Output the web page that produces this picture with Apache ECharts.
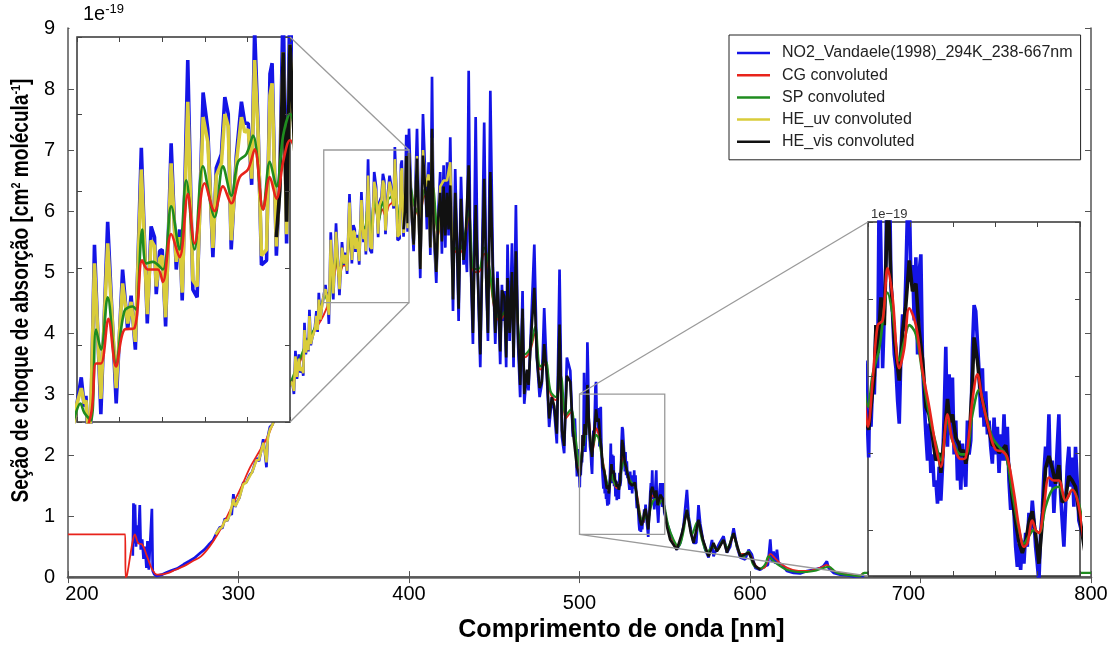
<!DOCTYPE html>
<html lang="pt">
<head>
<meta charset="UTF-8">
<title>Seção de choque de absorção do NO2</title>
<script src="https://cdn.jsdelivr.net/npm/echarts@6/dist/echarts.min.js"></script>
<style>html,body{margin:0;background:#fff}</style>
</head>
<body>
<div id="main" style="width:1117px;height:648px"></div>
<script>
// valores em 1e-19 cm2/molécula
const no2Vandaele = [
  [238.0,0.35],[238.4,1.21],[238.8,0.55],[239.3,1.19],[239.9,0.50],[240.6,0.85],[241.2,0.55],[242.1,1.18],[242.7,0.45],[243.5,0.62],
  [244.3,0.30],[245.2,0.50],[246.0,0.15],[246.6,0.59],[247.4,0.12],[248.4,0.10],[249.2,1.12],[249.7,0.10],[250.5,0.05],[252.0,0.02],
  [255.0,0.04],[258.1,0.08],[261.0,0.11],[264.0,0.14],[267.9,0.21],[271.0,0.26],[274.0,0.31],[277.7,0.40],[280.0,0.45],[282.5,0.53],
  [285.0,0.60],[287.5,0.74],[289.1,0.82],[290.5,0.80],[292.0,0.96],[293.5,0.92],[295.0,1.06],[296.0,1.02],[297.0,1.36],[298.0,1.15],
  [298.9,1.22],[300.5,1.30],[302.8,1.55],[304.5,1.55],[306.7,1.68],[308.0,1.72],[310.6,1.95],[312.0,1.90],[313.5,2.10],[314.5,2.26],
  [315.5,2.05],[316.4,1.80],[317.2,2.30],[318.4,2.46],[320.0,2.50],[322.3,2.75],[324.0,2.85],[326.0,3.00],[328.0,3.05],[330.0,3.15],
  [331.5,3.22],[332.5,3.00],[333.4,3.71],[334.3,3.25],[335.4,3.65],[336.3,3.35],[337.3,3.44],[338.0,3.30],[338.7,4.17],[339.5,3.65],
  [340.3,3.92],[341.0,3.70],[341.6,4.38],[342.4,3.80],[343.2,3.92],[344.2,3.90],[344.8,4.09],[345.7,4.36],[346.4,4.02],[347.1,4.66],
  [348.0,4.20],[349.0,4.47],[350.0,4.62],[351.0,4.79],[351.7,4.60],[352.1,4.67],[353.0,4.15],[354.1,5.65],[355.6,4.55],[357.2,5.80],
  [359.2,4.62],[360.7,5.49],[361.9,5.10],[362.7,5.32],[363.7,4.97],[365.1,6.28],[366.5,5.14],[367.4,5.77],[368.2,5.70],[368.6,5.33],
  [369.4,5.61],[370.0,5.62],[370.8,5.12],[372.1,6.31],[373.3,5.49],[374.1,5.75],[374.7,5.29],[376.0,6.85],[377.2,5.36],[378.2,5.31],
  [379.6,6.64],[380.7,6.40],[381.9,5.57],[382.7,6.15],[383.9,6.24],[384.7,6.61],[385.5,6.50],[386.2,5.62],[387.4,6.23],[388.6,6.58],
  [389.4,6.44],[390.2,6.44],[391.0,6.04],[391.7,7.05],[392.5,6.42],[393.3,5.52],[394.5,5.55],[395.3,6.76],[395.8,6.83],[396.8,5.58],
  [397.6,6.07],[398.4,7.25],[399.2,5.66],[400.0,7.35],[401.7,5.88],[402.7,5.34],[404.7,7.35],[406.6,4.90],[408.2,7.59],[409.6,6.53],
  [410.5,5.70],[411.5,6.80],[412.5,5.28],[413.5,8.20],[414.4,5.72],[416.0,4.82],[417.2,6.00],[418.3,6.64],[419.3,5.30],[420.3,6.75],
  [421.3,5.40],[422.3,6.80],[423.2,5.60],[424.2,7.21],[425.8,4.36],[427.1,6.69],[428.1,5.55],[429.1,4.20],[430.5,6.56],[432.0,5.12],
  [433.0,5.45],[434.0,5.00],[435.0,8.30],[435.9,5.50],[437.5,3.82],[439.1,7.54],[440.2,5.12],[441.8,3.44],[442.8,5.12],[444.1,7.45],
  [445.3,4.90],[446.3,3.87],[447.7,7.97],[449.2,5.12],[450.6,3.82],[451.9,5.01],[453.5,3.49],[454.5,4.79],[455.2,4.20],[455.9,4.69],
  [457.0,3.44],[457.8,5.45],[459.0,3.87],[460.4,5.47],[461.3,3.44],[462.7,6.10],[463.9,3.87],[465.2,2.95],[466.6,4.69],[467.6,2.84],
  [469.2,3.38],[470.1,3.06],[471.5,4.03],[473.5,5.45],[475.0,3.60],[476.6,2.95],[477.9,3.17],[479.3,4.41],[480.9,3.27],[482.2,2.46],
  [483.8,2.95],[485.2,2.73],[486.7,2.19],[488.3,5.04],[489.7,2.30],[491.0,2.03],[492.6,3.60],[494.6,3.38],[496.1,2.30],[497.3,2.60],
  [498.5,1.65],[499.3,2.10],[500.16,1.47],[500.31,1.77],[500.71,1.67],[501.10,1.97],[501.49,1.88],[501.88,2.33],[502.28,2.05],[502.67,3.35],
  [503.06,2.79],[503.45,2.05],[503.84,2.40],[504.24,2.77],[504.63,3.85],[505.02,3.40],[505.41,2.61],[505.80,2.40],[506.20,2.14],[506.59,2.05],
  [506.98,1.84],[507.37,1.69],[507.76,2.14],[508.16,2.40],[508.55,2.29],[508.94,2.66],[509.33,3.10],[509.73,3.20],[510.12,2.61],[510.51,2.72],
  [510.90,2.36],[511.29,2.77],[511.69,2.14],[512.08,2.68],[512.47,2.79],[512.86,2.08],[513.25,1.84],[513.65,1.62],[514.04,1.45],[514.43,1.69],
  [514.82,1.37],[515.22,1.49],[515.61,1.28],[516.00,1.32],[516.39,1.17],[516.78,1.41],[517.18,1.19],[517.57,1.41],[517.96,1.75],[518.35,2.19],
  [518.75,1.54],[519.14,2.01],[519.53,1.62],[519.92,1.99],[520.31,1.49],[520.71,1.71],[521.10,1.32],[521.49,1.58],[521.88,1.26],[522.27,1.56],
  [522.67,1.41],[523.06,1.28],[523.45,1.71],[523.84,1.49],[524.24,1.58],[524.63,2.18],[525.02,2.46],[525.41,2.42],[525.80,2.23],[526.20,2.03],
  [526.59,1.73],[526.98,2.05],[527.37,1.67],[527.76,1.90],[528.16,1.62],[528.55,1.71],[528.94,1.54],[529.33,1.43],[529.73,1.73],[530.12,1.49],
  [530.51,1.67],[530.90,1.37],[531.29,1.62],[531.69,1.45],[532.08,1.75],[532.47,1.45],[532.86,1.67],[533.25,1.32],[533.65,1.13],[534.04,1.24],
  [534.43,1.11],[534.82,0.89],[535.22,0.76],[535.61,0.91],[536.00,0.74],[536.39,0.93],[536.78,0.78],[537.18,0.98],[537.57,0.89],[537.96,1.11],
  [538.35,1.00],[538.75,1.19],[539.14,1.06],[539.53,0.89],[539.92,0.78],[540.31,0.66],[540.71,0.98],[541.10,1.11],[541.49,1.37],[541.88,1.54],
  [542.27,1.41],[542.67,1.75],[543.06,1.28],[543.45,1.45],[543.84,1.11],[544.24,1.32],[544.63,1.54],[545.02,1.75],[545.41,1.24],[545.80,1.06],
  [546.20,0.89],[546.59,1.15],[546.98,1.41],[547.37,1.54],[547.76,1.28],[548.16,1.47],[548.55,1.15],[548.94,1.54],[549.33,1.32],[549.73,1.06],
  [551.3,0.89],[553.2,0.72],[555.2,0.56],[557.1,0.45],[559.1,0.56],[561.0,0.83],[563.0,1.43],[564.0,0.99],[565.3,0.78],[566.9,0.56],
  [568.5,0.56],[569.8,1.18],[570.8,0.88],[572.4,0.61],[573.8,0.45],[575.7,0.32],[577.7,0.61],[578.6,0.34],[580.2,0.45],[582.2,0.56],
  [584.5,0.67],[586.5,0.40],[588.4,0.50],[590.4,0.80],[592.3,0.50],[594.3,0.32],[597.2,0.29],[599.2,0.45],[601.1,0.37],[603.1,0.15],
  [606.0,0.12],[608.9,0.18],[610.5,0.20],[611.9,0.62],[612.8,0.25],[613.8,0.42],[614.8,0.22],[615.8,0.45],[616.7,0.22],[618.7,0.21],
  [621.6,0.10],[625.5,0.07],[629.4,0.06],[633.4,0.10],[637.3,0.12],[641.2,0.15],[643.1,0.18],[645.1,0.26],[646.1,0.15],[649.0,0.07],
  [652.9,0.04],[656.8,0.03],[660.7,0.01],[664.6,0.02],[667.0,0.02]
];

const cgConvoluted = [
  [200.0,0.70],[233.6,0.70],[233.7,0.00],[234.5,0.02],[236.5,0.35],[238.0,0.60],[239.2,0.70],[240.5,0.60],[241.4,0.55],[243.3,0.54],
  [246.4,0.34],[249.3,0.13],[252.3,0.04],[258.0,0.06],[263.0,0.12],[268.0,0.18],[273.0,0.26],[278.0,0.34],[283.0,0.50],[287.5,0.69],
  [292.0,0.92],[297.0,1.21],[302.0,1.50],[307.0,1.81],[312.0,2.05],[317.0,2.30],[322.6,2.68],[327.0,2.95],[331.0,3.20],[335.0,3.45],
  [340.0,3.80],[345.0,4.05],[350.0,4.30],[353.3,4.55],[354.47,4.88],[355.64,4.88],[357.37,5.17],[359.17,4.86],[361.13,5.10],[363.48,5.11],
  [365.29,5.55],[366.62,5.49],[368.98,5.49],[370.15,5.41],[372.11,5.72],[374.07,5.57],[376.03,5.98],[377.60,5.66],[379.96,6.05],[382.31,5.87],
  [384.27,6.03],[386.23,5.92],[388.19,6.09],[390.15,6.14],[391.72,6.27],[393.68,5.88],[395.25,6.09],[396.82,5.95],[398.39,6.19],[399.96,6.33],
  [403,6.10],[406,5.90],[409,6.25],[412,5.90],[414,6.30],[417,5.60],[420,6.00],[423,6.10],[426,5.40],[429,5.30],
  [432,5.40],[435,5.90],[438,5.00],[441,5.00],[444,5.30],[447,5.00],[450,4.40],[453,4.20],[456,4.30],[459,4.40],
  [462,4.50],[465,3.80],[468,3.60],[471,3.70],[474,4.00],[477,3.40],[480,3.50],[483,3.00],[486,2.90],[489,3.20],
  [492,2.60],[495,2.70],[497,2.40],[499,1.90],[500.0,1.67],[501.10,1.97],[502.28,2.33],[503.45,2.36],[504.63,2.70],[505.80,2.51],
  [507.37,2.05],[508.55,2.18],[509.73,2.44],[511.29,2.33],[512.86,2.03],[514.43,1.80],[516.00,1.54],[517.18,1.41],[518.75,1.75],[519.92,1.58],
  [521.88,1.46],[523.06,1.47],[524.63,1.84],[525.80,2.01],[526.98,1.84],[528.55,1.65],[530.12,1.52],[531.69,1.51],[532.86,1.47],[534.43,1.24],
  [535.61,1.02],[536.78,0.89],[537.57,0.91],[538.75,1.06],[539.53,1.00],[540.31,0.98],[541.49,1.15],[542.67,1.34],[543.84,1.32],[545.02,1.32],
  [546.59,1.19],[548.16,1.26],[549.73,1.15],[551.3,0.85],[553.2,0.65],[557.1,0.50],[560.0,0.70],[563.0,1.00],[565.3,0.75],[567.0,0.62],
  [569.8,0.85],[572.4,0.62],[575.7,0.40],[578.6,0.50],[581.0,0.45],[584.5,0.60],[586.5,0.45],[590.4,0.65],[594.3,0.38],[599.2,0.38],
  [603.1,0.20],[606.0,0.14],[609.0,0.17],[612.0,0.38],[615.0,0.30],[619.0,0.20],[625.0,0.12],[633.0,0.10],[641.0,0.15],[645.0,0.20],
  [649.0,0.10],[657.0,0.05],[664.0,0.02],[667.0,0.07],[800.0,0.07]
];

const spConvoluted = [
  [330,3.15],[335,3.50],[340,3.85],[345,4.10],[349.76,4.56],[350.8,4.62],[351.72,4.56],[353.29,4.51],[354.47,5.10],[355.64,4.97],
  [357.21,5.31],[359.17,4.88],[361.13,5.22],[363.09,5.25],[363.88,5.23],[365.29,5.75],[366.23,5.53],[367.80,5.54],[370.15,5.49],[372.11,5.90],
  [374.07,5.62],[375.64,6.07],[377.60,5.62],[379.56,6.16],[382.31,5.83],[384.27,6.16],[386.23,5.97],[387.80,6.19],[389.76,6.24],[391.33,6.36],
  [393.68,5.88],[395.25,6.19],[396.82,6.03],[398.39,6.36],[399.96,6.50],[403,6.10],[406,5.95],[409,6.35],[412,5.95],[414,6.40],
  [417,5.65],[420,6.10],[423,6.20],[426,5.45],[429,5.35],[432,5.50],[435,6.00],[438,5.05],[441,5.05],[444,5.40],
  [447,5.10],[450,4.45],[453,4.25],[456,4.35],[459,4.50],[462,4.60],[465,3.85],[468,3.65],[471,3.75],[474,4.10],
  [477,3.45],[480,3.55],[483,3.05],[486,2.95],[489,3.30],[492,2.65],[495,2.75],[497,2.45],[499,1.95],[500.0,1.80],
  [501.10,2.01],[502.67,2.18],[504.63,2.54],[505.80,2.40],[507.37,2.10],[508.55,2.23],[509.73,2.33],[511.29,2.27],[512.86,2.01],[514.43,1.75],
  [516.00,1.56],[517.18,1.45],[518.75,1.71],[519.92,1.58],[521.88,1.49],[523.06,1.49],[524.63,1.75],[526.20,1.91],[527.76,1.75],[529.33,1.60],
  [530.90,1.54],[532.47,1.49],[534.04,1.24],[535.61,1.00],[536.78,0.91],[537.96,0.96],[539.14,1.00],[540.31,0.98],[541.88,1.15],[543.45,1.26],
  [545.02,1.28],[546.59,1.19],[548.16,1.26],[549.73,1.17],[552,0.85],[555,0.62],[558,0.50],[561,0.75],[563,1.10],[566,0.70],
  [569,0.90],[572,0.60],[575,0.40],[578,0.50],[581,0.45],[584,0.60],[587,0.48],[590,0.70],[593,0.45],[596,0.33],
  [599,0.42],[602,0.20],[606,0.14],[608.9,0.21],[610.9,0.34],[613.8,0.26],[617.7,0.18],[621.6,0.12],[629.4,0.08],[637.3,0.10],
  [643.1,0.15],[646.1,0.17],[651.0,0.07],[658.8,0.03],[664.6,0.02],[667.0,0.07],[800.0,0.07]
];

const heUvConvoluted = [
  [286.5,0.70],[289.1,0.80],[290.5,0.82],[292.0,0.93],[293.5,0.93],[295.0,1.03],[296.0,1.04],[297.0,1.28],[298.0,1.16],[298.9,1.20],
  [300.5,1.30],[302.8,1.52],[304.5,1.55],[306.7,1.66],[308.0,1.72],[310.6,1.92],[312.0,1.92],[313.5,2.08],[314.5,2.20],[315.5,2.06],
  [316.4,1.88],[317.2,2.28],[318.4,2.42],[320.0,2.50],[322.3,2.72],[324.0,2.85],[326.0,2.98],[328.0,3.05],[330.0,3.14],[331.5,3.20],
  [332.5,3.05],[333.4,3.62],[334.3,3.28],[335.4,3.58],[336.3,3.38],[337.3,3.44],[338.0,3.34],[338.7,4.05],[339.5,3.68],[340.3,3.88],
  [341.0,3.72],[341.6,4.28],[342.4,3.82],[343.2,3.92],[344.2,3.90],[344.8,4.06],[345.7,4.28],[346.4,4.05],[347.1,4.55],[348.0,4.22],
  [349.0,4.45],[350.0,4.62],[351.0,4.72],[351.7,4.62],[352.1,4.64],[353.0,4.30],[354.1,5.53],[355.6,4.65],[357.2,5.66],[359.2,4.72],
  [360.7,5.40],[361.9,5.14],[362.7,5.28],[363.7,5.02],[365.1,6.14],[366.5,5.20],[367.4,5.68],[368.2,5.64],[368.6,5.38],[369.4,5.56],
  [370.0,5.58],[370.8,5.18],[372.1,6.18],[373.3,5.54],[374.1,5.70],[374.7,5.34],[376.0,6.58],[377.2,5.42],[378.2,5.38],[379.6,6.48],
  [380.7,6.32],[381.9,5.63],[382.7,6.10],[383.9,6.18],[384.7,6.50],[385.5,6.42],[386.2,5.68],[387.4,6.18],[388.6,6.48],[389.4,6.38],
  [390.2,6.40],[391.0,6.08],[391.7,6.85],[392.5,6.38],[393.3,5.58],[394.5,5.62],[395.3,6.62],[395.8,6.70],[396.8,5.64],[397.6,6.05],
  [398.4,6.90],[399.2,5.72],[400.0,6.95],[401.7,5.90],[402.7,5.45],[404.7,6.90],[406.6,5.05],[408.2,7.00],[409.6,6.40],[411.5,6.60],
  [412.5,5.40],[413.5,7.20],[414.4,5.80],[416.0,5.00],[418.3,6.40],[420.3,6.50],[422.3,6.50],[424.2,6.80],[425.8,4.60]
];

const heVisConvoluted = [
  [396.8,5.70],[397.6,6.00],[398.4,6.90],[399.2,5.80],[400.0,6.95],[401.7,5.90],[402.7,5.45],[404.7,6.86],[406.6,5.05],[408.2,6.91],
  [409.6,6.35],[410.5,5.90],[411.5,6.50],[412.5,5.40],[413.5,7.35],[414.4,5.80],[416.0,5.00],[417.2,5.90],[418.3,6.30],[419.3,5.50],
  [420.3,6.40],[421.3,5.60],[422.3,6.30],[423.2,5.70],[424.2,6.42],[425.8,4.55],[427.1,6.30],[428.1,5.50],[429.1,4.40],[430.5,6.20],
  [432.0,5.20],[433.0,5.45],[435.0,6.75],[435.9,5.50],[437.5,4.00],[439.1,6.10],[440.2,5.10],[441.8,3.65],[442.8,5.00],[444.1,6.53],
  [445.3,4.90],[446.3,4.00],[447.7,6.64],[449.2,5.00],[450.6,4.00],[451.9,4.90],[453.5,3.70],[454.5,4.70],[455.9,4.60],[457.0,3.60],
  [457.8,4.90],[459.0,4.00],[460.4,5.00],[461.3,3.60],[462.7,5.34],[463.9,4.00],[465.2,3.15],[466.6,4.40],[467.6,3.00],[469.2,3.40],
  [470.1,3.15],[471.5,3.90],[473.5,4.74],[475.0,3.60],[476.6,3.10],[477.9,3.20],[479.3,3.82],[480.9,3.30],[482.2,2.60],[483.8,2.95],
  [485.2,2.80],[486.7,2.35],[488.3,4.14],[489.7,2.40],[491.0,2.15],[492.6,3.30],[494.6,3.20],[496.1,2.40],[498.5,1.80],[500.16,1.65],
  [500.7,1.80],[501.5,2.00],[501.88,2.33],[502.3,2.15],[503.06,2.51],[503.84,2.33],[504.63,3.15],[505.02,2.95],[505.41,2.61],[506.2,2.25],
  [507.0,2.05],[507.37,1.97],[508.2,2.30],[508.9,2.45],[509.73,2.75],[510.5,2.55],[511.3,2.60],[512.08,2.29],[512.9,2.10],[513.65,1.80],
  [514.4,1.75],[515.22,1.60],[516.0,1.45],[516.8,1.50],[517.18,1.37],[518.0,1.60],[518.75,1.85],[519.3,1.70],[519.92,1.75],[520.7,1.60],
  [521.5,1.55],[521.88,1.48],[522.5,1.52],[523.06,1.43],[523.8,1.55],[524.6,1.95],[525.02,2.25],[525.8,2.10],[526.59,1.88],[527.4,1.80],
  [528.0,1.72],[528.55,1.65],[529.3,1.55],[530.1,1.55],[530.9,1.50],[531.7,1.52],[532.47,1.55],[533.3,1.40],[534.04,1.20],[534.82,1.05],
  [535.6,0.92],[536.39,0.85],[537.2,0.92],[537.96,1.05],[538.75,1.12],[539.5,0.98],[540.31,0.78],[541.1,1.05],[541.88,1.40],[542.67,1.48],
  [543.45,1.40],[544.24,1.30],[545.02,1.42],[545.8,1.18],[546.59,1.20],[547.37,1.35],[548.16,1.32],[548.94,1.28],[549.73,1.12],[551.3,0.83],
  [553.2,0.61],[557.1,0.45],[560.1,0.72],[563.0,1.10],[565.3,0.72],[566.9,0.56],[569.8,0.94],[572.4,0.61],[575.7,0.34],[578.6,0.56],
  [580.6,0.42],[584.5,0.61],[586.5,0.40],[590.4,0.72],[594.3,0.34],[599.2,0.40],[603.1,0.18],[606.0,0.12]
];

// janelas das ampliações: [comprimento de onda], [seção de choque]
const zoomUv = [[350, 400], [4.5, 7]];
const zoomVis = [[500, 550], [0.7, 3]];

const seriesNames = ['NO2_Vandaele(1998)_294K_238-667nm', 'CG convoluted', 'SP convoluted', 'HE_uv convoluted', 'HE_vis convoluted'];
const colors = ['#1414e6', '#e8231b', '#1f8c1f', '#d9cc3a', '#111111'];
const allData = [no2Vandaele, cgConvoluted, spConvoluted, heUvConvoluted, heVisConvoluted];

const chart = echarts.init(document.getElementById('main'));

const sans = 'Liberation Sans, Arial, sans-serif';
const tickFont = {color: '#000', fontSize: 20, fontFamily: sans};
const frame = {color: '#555', width: 1.5};

function lineSeries(i, xi, yi, width, z) {
  return {
    name: seriesNames[i], type: 'line', data: allData[i],
    xAxisIndex: xi, yAxisIndex: yi, symbol: 'none', silent: true, z: z,
    smooth: (i === 1 || i === 2) ? 0.35 : false,
    lineStyle: {color: colors[i], width: width}, itemStyle: {color: colors[i]}
  };
}

function insetAxes(gi, range, interval) {
  const tick = {inside: true, length: 5, lineStyle: {color: '#444', width: 1}};
  const base = {gridIndex: gi, type: 'value', min: range[0], max: range[1], z: 12,
    axisLine: {show: false}, axisTick: tick, axisLabel: {show: false}, splitLine: {show: false}};
  if (interval) base.interval = interval; else base.splitNumber = 5;
  return base;
}

const xAxes = [
  {gridIndex: 0, type: 'value', min: 200, max: 800, interval: 100,
    axisLine: {lineStyle: {color: '#666', width: 2.5}},
    axisTick: {inside: true, length: 6, lineStyle: {color: '#555'}},
    axisLabel: Object.assign({}, tickFont, {margin: 7,
      formatter: v => v === 200 ? '{l|200}' : v === 500 ? '{d|500}' : v === 700 ? '{r|700}' : String(v),
      rich: {
        l: Object.assign({}, tickFont, {padding: [0, 0, 0, 28]}),
        d: Object.assign({}, tickFont, {padding: [9, 0, 0, 0]}),
        r: Object.assign({}, tickFont, {padding: [0, 24, 0, 0]})
      }}),
    splitLine: {show: false},
    name: 'Comprimento de onda [nm]', nameLocation: 'middle', nameGap: 35,
    nameTextStyle: {color: '#000', fontSize: 25, fontWeight: 'bold', fontFamily: sans, padding: [0, 0, 0, 84]}},
  {gridIndex: 0, type: 'value', position: 'top', min: 200, max: 800, interval: 100,
    axisLine: {lineStyle: frame}, axisTick: {inside: true, length: 6, lineStyle: {color: '#555'}},
    axisLabel: {show: false}, splitLine: {show: false}},
  Object.assign(insetAxes(1, zoomUv[0], 10), {position: 'bottom'}),
  Object.assign(insetAxes(1, zoomUv[0], 10), {position: 'top'}),
  Object.assign(insetAxes(2, zoomVis[0], 10), {position: 'bottom'}),
  Object.assign(insetAxes(2, zoomVis[0], 10), {position: 'top'})
];

const yAxes = [
  {gridIndex: 0, type: 'value', min: 0, max: 9, interval: 1,
    axisLine: {lineStyle: frame}, axisTick: {inside: true, length: 6, lineStyle: {color: '#555'}},
    axisLabel: Object.assign({}, tickFont, {margin: 13}), splitLine: {show: false}},
  {gridIndex: 0, type: 'value', position: 'right', min: 0, max: 9, interval: 1,
    axisLine: {lineStyle: frame}, axisTick: {inside: true, length: 6, lineStyle: {color: '#555'}},
    axisLabel: {show: false}, splitLine: {show: false}},
  Object.assign(insetAxes(1, zoomUv[1], 0.5), {position: 'left'}),
  Object.assign(insetAxes(1, zoomUv[1], 0.5), {position: 'right'}),
  Object.assign(insetAxes(2, zoomVis[1], null), {position: 'left'}),
  Object.assign(insetAxes(2, zoomVis[1], null), {position: 'right'})
];

const insetGrid = {show: true, backgroundColor: '#fff', borderColor: '#333', borderWidth: 1.5, z: 10};

const series = [];
// gráfico principal
[[0, 2.7], [1, 1.8], [2, 2.2], [3, 2.6], [4, 2.6]].forEach(([i, w]) => series.push(lineSeries(i, 0, 0, w, 2)));
// ampliações
[[0, 3.6], [3, 3.6], [4, 3.6], [2, 2.6], [1, 2.6]].forEach(([i, w]) => {
  series.push(lineSeries(i, 2, 2, w, 11));
  series.push(lineSeries(i, 4, 4, w, 11));
});

chart.setOption({
  animation: false,
  backgroundColor: '#fff',
  grid: [
    {left: 68, right: 26, top: 28, bottom: 65},
    Object.assign({left: 77, top: 37, width: 213, height: 385}, insetGrid),
    Object.assign({left: 868, top: 222, width: 212, height: 354}, insetGrid)
  ],
  legend: {
    data: seriesNames, orient: 'vertical', left: 729, top: 35, icon: 'rect',
    itemWidth: 33, itemHeight: 2.5, itemGap: 4.2, padding: [9, 8, 9, 8],
    borderColor: '#222', borderWidth: 1, backgroundColor: '#fff', z: 20,
    textStyle: {fontSize: 16, lineHeight: 18, color: '#222', fontFamily: sans, padding: [0, 0, 0, 7]}
  },
  xAxis: xAxes,
  yAxis: yAxes,
  series: series
});

// retângulos de ampliação, linhas de ligação e textos
const px = (ax, v) => chart.convertToPixel({xAxisIndex: ax, yAxisIndex: ax}, v);
const gray = {stroke: '#9a9a9a', lineWidth: 1.3, fill: null};
function rectOf(win) {
  const a = px(0, [win[0][0], win[1][1]]), b = px(0, [win[0][1], win[1][0]]);
  return {type: 'rect', z: 30, silent: true, shape: {x: a[0], y: a[1], width: b[0] - a[0], height: b[1] - a[1]}, style: gray};
}
function link(p, q) {
  return {type: 'line', z: 30, silent: true, shape: {x1: p[0], y1: p[1], x2: q[0], y2: q[1]}, style: gray};
}
const uvTop = px(2, [zoomUv[0][1], zoomUv[1][1]]), uvBot = px(2, [zoomUv[0][1], zoomUv[1][0]]);
const visTop = px(4, [zoomVis[0][0], zoomVis[1][1]]), visBot = px(4, [zoomVis[0][0], zoomVis[1][0]]);
const corner = px(0, [200, 9]);
const midLeft = px(0, [200, 4.5]);

chart.setOption({
  graphic: [
    rectOf(zoomUv), rectOf(zoomVis),
    link(px(0, [zoomUv[0][1], zoomUv[1][1]]), uvTop),
    link(px(0, [zoomUv[0][1], zoomUv[1][0]]), uvBot),
    link(px(0, [zoomVis[0][0], zoomVis[1][1]]), visTop),
    link(px(0, [zoomVis[0][0], zoomVis[1][0]]), visBot),
    {type: 'rect', z: 40, silent: true, shape: {x: corner[0] + 1.5, y: corner[1] - 20, width: 74, height: 23}, style: {fill: '#fff'}},
    {type: 'text', z: 41, silent: true, x: corner[0] + 15, y: corner[1] - 2,
      style: {text: '1e{s|-19}', fill: '#000', font: '20px ' + sans, verticalAlign: 'bottom',
        rich: {s: {fontSize: 13, fontFamily: sans, fill: '#000', padding: [0, 0, 10, 0]}}}},
    {type: 'text', z: 41, silent: true, x: visTop[0] + 3, y: visTop[1] - 1,
      style: {text: '1e\u221219', fill: '#333', font: '13px ' + sans, verticalAlign: 'bottom'}},
    // título do eixo y, estreitado como no original
    {type: 'text', z: 41, silent: true, x: midLeft[0] - 46, y: midLeft[1] - 12, rotation: Math.PI / 2, scaleX: 0.83,
      style: {text: 'Seção de choque de absorção [cm{s|2} molécula{s|-1}]', fill: '#000',
        font: 'bold 23px ' + sans, align: 'center', verticalAlign: 'middle',
        rich: {s: {fontSize: 13, fontWeight: 'bold', fontFamily: sans, fill: '#000', padding: [0, 0, 12, 0]}}}}
  ]
});
</script>
</body>
</html>
